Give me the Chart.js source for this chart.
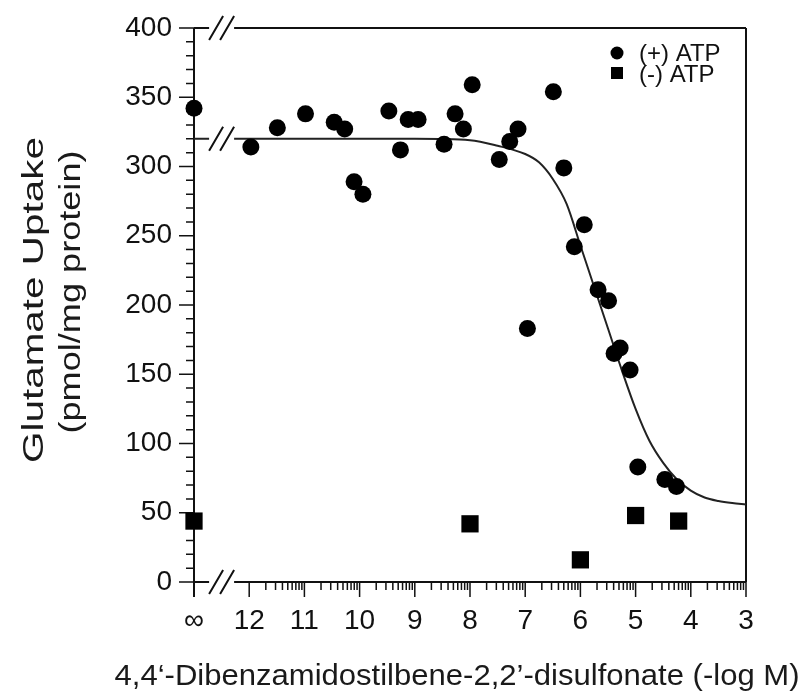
<!DOCTYPE html>
<html>
<head>
<meta charset="utf-8">
<script src="https://cdn.jsdelivr.net/npm/chart.js@4.4.1/dist/chart.umd.min.js"></script>
<style>
html,body{margin:0;padding:0;background:#ffffff;}
#wrap{width:812px;height:696px;}
</style>
</head>
<body>
<div id="wrap"><canvas id="c" width="812" height="696"></canvas></div>
<script>
// ---- tick labels ----
const xTickValues = [13, 12, 11, 10, 9, 8, 7, 6, 5, 4, 3];
const xTickLabels = ['∞', '12', '11', '10', '9', '8', '7', '6', '5', '4', '3'];
const xMinorMultipliers = [2, 3, 4, 5, 6, 7, 8, 9];
const yTickValues = [0, 50, 100, 150, 200, 250, 300, 350, 400];
const yMinorStep = 10;

// ---- series: (+) ATP ----
const plusATP_x = [13, 11.97, 11.49, 10.98, 10.46, 10.27, 10.10, 9.94, 9.47, 9.26, 9.12, 8.94, 8.47, 8.27, 8.12, 7.96, 7.47, 7.28, 7.13, 6.96, 6.49, 6.30, 6.11, 5.93, 5.68, 5.49, 5.39, 5.28, 5.10, 4.96, 4.47, 4.26];
const plusATP_y = [342, 314, 328, 338, 332, 327, 289, 280, 340, 312, 334, 334, 316, 338, 327, 359, 305, 318, 327, 183, 354, 299, 242, 258, 211, 203, 165, 169, 153, 83, 74, 69];

// ---- series: (-) ATP ----
const minusATP_x = [13, 8, 6, 5, 4.22];
const minusATP_y = [44, 42, 16, 48, 44];

// ---- fitted curve ----
const fit_x = [13, 12, 11, 10, 9, 8, 7.5, 7, 6.75, 6.5, 6.25, 6, 5.75, 5.5, 5.25, 5, 4.75, 4.5, 4.25, 4, 3.75, 3.5, 3.25, 3];
const fit_y = [320, 320, 320, 320, 320, 319, 315, 309, 303, 291, 273, 243, 213, 183, 153, 125, 102, 86, 74, 66, 61, 58.5, 57, 56];

const breakValueX = 12.5;
const FONT = "'Liberation Sans', Arial, Helvetica, sans-serif";
const INK = '#111111';

function pts(xs, ys) { return xs.map((x, i) => ({x: x, y: ys[i]})); }

function drawStretched(ctx, text, cx, cy, targetLen, rotate) {
  ctx.save();
  ctx.translate(cx, cy);
  if (rotate) ctx.rotate(-Math.PI / 2);
  const w = ctx.measureText(text).width;
  ctx.scale(targetLen / w, 1);
  ctx.textAlign = 'center';
  ctx.textBaseline = 'alphabetic';
  ctx.fillText(text, 0, 0);
  ctx.restore();
}

const framePlugin = {
  id: 'frame',
  beforeDatasetsDraw(chart) {
    const {ctx, chartArea: a, scales: {x, y}} = chart;
    ctx.save();
    ctx.strokeStyle = INK;
    ctx.lineWidth = 2;
    ctx.beginPath();
    ctx.moveTo(a.left, a.top); ctx.lineTo(a.left, a.bottom + 15);
    ctx.moveTo(a.left, a.bottom); ctx.lineTo(a.right, a.bottom);
    ctx.moveTo(a.left, a.top); ctx.lineTo(a.right, a.top);
    ctx.moveTo(a.right, a.top); ctx.lineTo(a.right, a.bottom);
    ctx.stroke();

    ctx.lineWidth = 1.5;
    ctx.beginPath();
    const yMin = yTickValues[0], yMax = yTickValues[yTickValues.length - 1];
    const yMajor = yTickValues[1] - yTickValues[0];
    for (let v = yMin; v <= yMax; v += yMinorStep) {
      const p = y.getPixelForValue(v);
      const len = (v % yMajor === 0) ? 15 : 8;
      ctx.moveTo(a.left - len, p); ctx.lineTo(a.left, p);
    }
    xTickValues.forEach(v => {
      const p = x.getPixelForValue(v);
      ctx.moveTo(p, a.bottom); ctx.lineTo(p, a.bottom + 15);
    });
    for (let n = 12; n > 3; n--) {
      for (const k of xMinorMultipliers) {
        const p = x.getPixelForValue(n - Math.log10(k));
        ctx.moveTo(p, a.bottom); ctx.lineTo(p, a.bottom + 8);
      }
    }
    ctx.stroke();
    ctx.restore();
  },
  afterDatasetsDraw(chart) {
    const {ctx, chartArea: a, scales: {x, y}} = chart;
    ctx.save();
    const bx = x.getPixelForValue(breakValueX);
    [yTickValues[yTickValues.length - 1], fit_y[0], yTickValues[0]].forEach(v => {
      const py = y.getPixelForValue(v);
      ctx.fillStyle = '#ffffff';
      ctx.fillRect(bx - 12.5, py - 3, 25, 6);
      ctx.strokeStyle = INK;
      ctx.lineWidth = 2;
      ctx.beginPath();
      for (const d of [-5.5, 5.5]) {
        ctx.moveTo(bx + d - 7, py + 12);
        ctx.lineTo(bx + d + 7, py - 12);
      }
      ctx.stroke();
    });

    // legend inside the plot
    const ds = chart.data.datasets;
    const lx = a.right - 129;
    ctx.fillStyle = '#000';
    ctx.beginPath();
    ctx.arc(lx, a.top + 25, 6.5, 0, Math.PI * 2);
    ctx.fill();
    ctx.fillRect(lx - 6, a.top + 39, 12, 12);
    ctx.font = '24px ' + FONT;
    ctx.fillStyle = INK;
    ctx.textAlign = 'left';
    ctx.textBaseline = 'middle';
    ctx.fillText(ds[0].label, lx + 22, a.top + 26);
    ctx.fillText(ds[1].label, lx + 22, a.top + 47);

    // axis titles
    ctx.fillStyle = '#1a1a1a';
    ctx.font = '30px ' + FONT;
    drawStretched(ctx, 'Glutamate Uptake', 43, 300, 326, true);
    drawStretched(ctx, '(pmol/mg protein)', 80, 292, 283, true);
    drawStretched(ctx, '4,4\u2018-Dibenzamidostilbene-2,2\u2019-disulfonate (-log M)', 457, 685, 685, false);
    ctx.restore();
  }
};

new Chart(document.getElementById('c').getContext('2d'), {
  type: 'scatter',
  data: {
    datasets: [
      {
        label: '(+) ATP',
        data: pts(plusATP_x, plusATP_y),
        pointStyle: 'circle',
        pointRadius: 8.5,
        backgroundColor: '#000',
        borderColor: '#000',
        borderWidth: 0,
        order: 0,
        clip: false
      },
      {
        label: '(-) ATP',
        data: pts(minusATP_x, minusATP_y),
        pointStyle: 'rect',
        pointRadius: 12.2,
        backgroundColor: '#000',
        borderColor: '#000',
        borderWidth: 0,
        order: 1,
        clip: false
      },
      {
        label: 'fit',
        type: 'line',
        data: pts(fit_x, fit_y),
        borderColor: '#222',
        borderWidth: 2,
        pointRadius: 0,
        fill: false,
        cubicInterpolationMode: 'monotone',
        order: 5,
        clip: false
      }
    ]
  },
  options: {
    responsive: false,
    animation: false,
    events: [],
    layout: {autoPadding: false, padding: {top: 28, right: 66, left: 0, bottom: 0}},
    plugins: {legend: {display: false}, tooltip: {enabled: false}},
    scales: {
      x: {
        type: 'linear',
        reverse: true,
        min: 3,
        max: 13,
        afterBuildTicks: s => { s.ticks = xTickValues.map(v => ({value: v})); },
        afterFit: s => { s.height = 114; s.paddingLeft = 0; s.paddingRight = 0; },
        ticks: {
          callback: v => xTickLabels[xTickValues.indexOf(v)],
          font: {family: FONT, size: 28},
          color: INK,
          padding: 22,
          maxRotation: 0,
          autoSkip: false
        },
        grid: {display: false, drawTicks: false},
        border: {display: false}
      },
      y: {
        type: 'linear',
        min: 0,
        max: 400,
        afterBuildTicks: s => { s.ticks = yTickValues.map(v => ({value: v})); },
        afterFit: s => { s.width = 194; s.paddingTop = 0; s.paddingBottom = 0; },
        ticks: {
          font: {family: FONT, size: 28},
          color: INK,
          padding: 22
        },
        grid: {display: false, drawTicks: false},
        border: {display: false}
      }
    }
  },
  plugins: [framePlugin]
});
</script>
</body>
</html>
